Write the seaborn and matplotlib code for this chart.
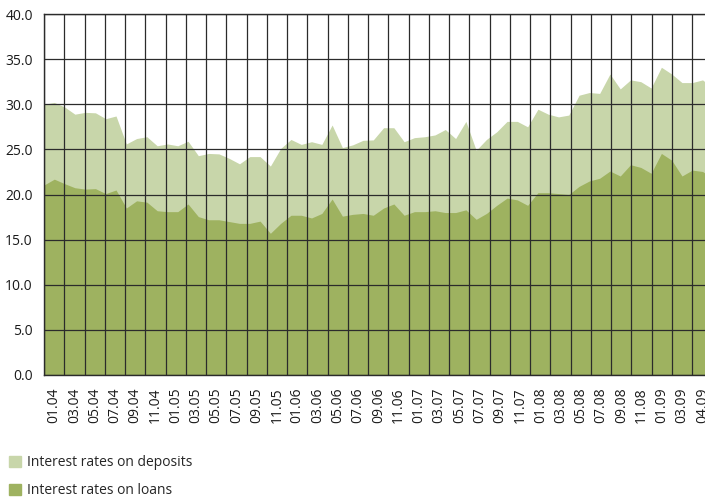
import matplotlib
matplotlib.use('Agg')
import numpy as np
import pandas as pd
import matplotlib.pyplot as plt
import seaborn as sns
from matplotlib.patches import Patch

# monthly values (per cent)
deposits = [30.0, 30.2, 29.7, 28.9, 29.1, 29.05, 28.4, 28.7, 25.6, 26.2,
            26.4, 25.4, 25.6, 25.4, 25.9, 24.3, 24.55, 24.5, 24.0, 23.4,
            24.2, 24.2, 23.15, 25.1, 26.1, 25.55, 25.85, 25.55, 27.7, 25.2,
            25.5, 26.0, 26.05, 27.4, 27.4, 25.85, 26.3, 26.4, 26.6, 27.2,
            26.2, 28.1, 24.9, 26.1, 26.95, 28.1, 28.1, 27.5, 29.45, 28.9,
            28.6, 28.8, 31.0, 31.3, 31.2, 33.35, 31.7, 32.7, 32.5, 31.8,
            34.1, 33.35, 32.4, 32.4, 32.7, 31.8]
loans = [21.05, 21.7, 21.2, 20.75, 20.6, 20.65, 20.1, 20.5, 18.5, 19.3,
         19.15, 18.2, 18.1, 18.1, 18.95, 17.55, 17.2, 17.2, 17.0, 16.8,
         16.8, 17.05, 15.7, 16.8, 17.7, 17.7, 17.4, 17.9, 19.5, 17.6,
         17.8, 17.9, 17.7, 18.5, 18.95, 17.7, 18.1, 18.1, 18.2, 18.0,
         18.0, 18.3, 17.25, 17.9, 18.8, 19.6, 19.4, 18.8, 20.2, 20.2,
         20.1, 20.0, 20.9, 21.5, 21.8, 22.6, 22.05, 23.3, 23.0, 22.35,
         24.55, 23.8, 22.05, 22.7, 22.55, 21.8]
month_labels = ['01.04', '03.04', '05.04', '07.04', '09.04', '11.04',
                '01.05', '03.05', '05.05', '07.05', '09.05', '11.05',
                '01.06', '03.06', '05.06', '07.06', '09.06', '11.06',
                '01.07', '03.07', '05.07', '07.07', '09.07', '11.07',
                '01.08', '03.08', '05.08', '07.08', '09.08', '11.08',
                '01.09', '03.09', '04.09']
y_ticks = [0, 5, 10, 15, 20, 25, 30, 35, 40]

light_green = '#c8d6aa'
dark_green = '#9eb260'
grid_col = '#2b2b2b'
fs = 10

df = pd.DataFrame({'idx': np.arange(len(deposits)),
                   'deposits': deposits, 'loans': loans})

sns.set_theme(style='white')
plt.rcParams['font.family'] = ['Open Sans', 'DejaVu Sans']

fig = plt.figure(figsize=(7.05, 4.99), dpi=100)
ax = fig.add_axes([44 / 705, 124 / 499, 661 / 705, 361 / 499])

ax.fill_between(df['idx'], 0, df['deposits'], color=light_green, lw=0, zorder=1)
ax.fill_between(df['idx'], 0, df['loans'], color=dark_green, lw=0, zorder=2)

# 32 grid cells span the first 64 months, labels sit in the middle of each cell
cell = 63 / 32
ax.set_xticks([(j + 0.5) * cell for j in range(len(month_labels))])
ax.set_xticklabels(month_labels, rotation=90, fontsize=fs)
ax.set_xticks([j * cell for j in range(34)], minor=True)
ax.set_xlim(0, 661 / 10.29)

ax.set_ylim(0, 40)
ax.set_yticks(y_ticks)
ax.set_yticklabels([f'{v:.1f}' for v in y_ticks], fontsize=fs)

ax.set_axisbelow(False)
ax.grid(False)
ax.grid(which='minor', axis='x', color=grid_col, lw=0.9)
ax.grid(which='major', axis='y', color=grid_col, lw=0.9)
ax.tick_params(axis='both', which='both', length=0, colors='#1a1a1a')
ax.tick_params(axis='x', pad=9)
ax.tick_params(axis='y', pad=8)

for side in ['left', 'top', 'bottom']:
    ax.spines[side].set_color(grid_col)
    ax.spines[side].set_linewidth(1.0)
ax.spines['right'].set_visible(False)

handles = [Patch(color=light_green, label='Interest rates on deposits'),
           Patch(color=dark_green, label='Interest rates on loans')]
fig.legend(handles=handles, loc='upper left', bbox_to_anchor=(9 / 705, 1 - 455 / 499),
           frameon=False, fontsize=fs, handlelength=0.85, handleheight=0.85,
           handletextpad=0.45, labelspacing=0.95, borderpad=0, borderaxespad=0)

fig.savefig('out.png', dpi=100)
